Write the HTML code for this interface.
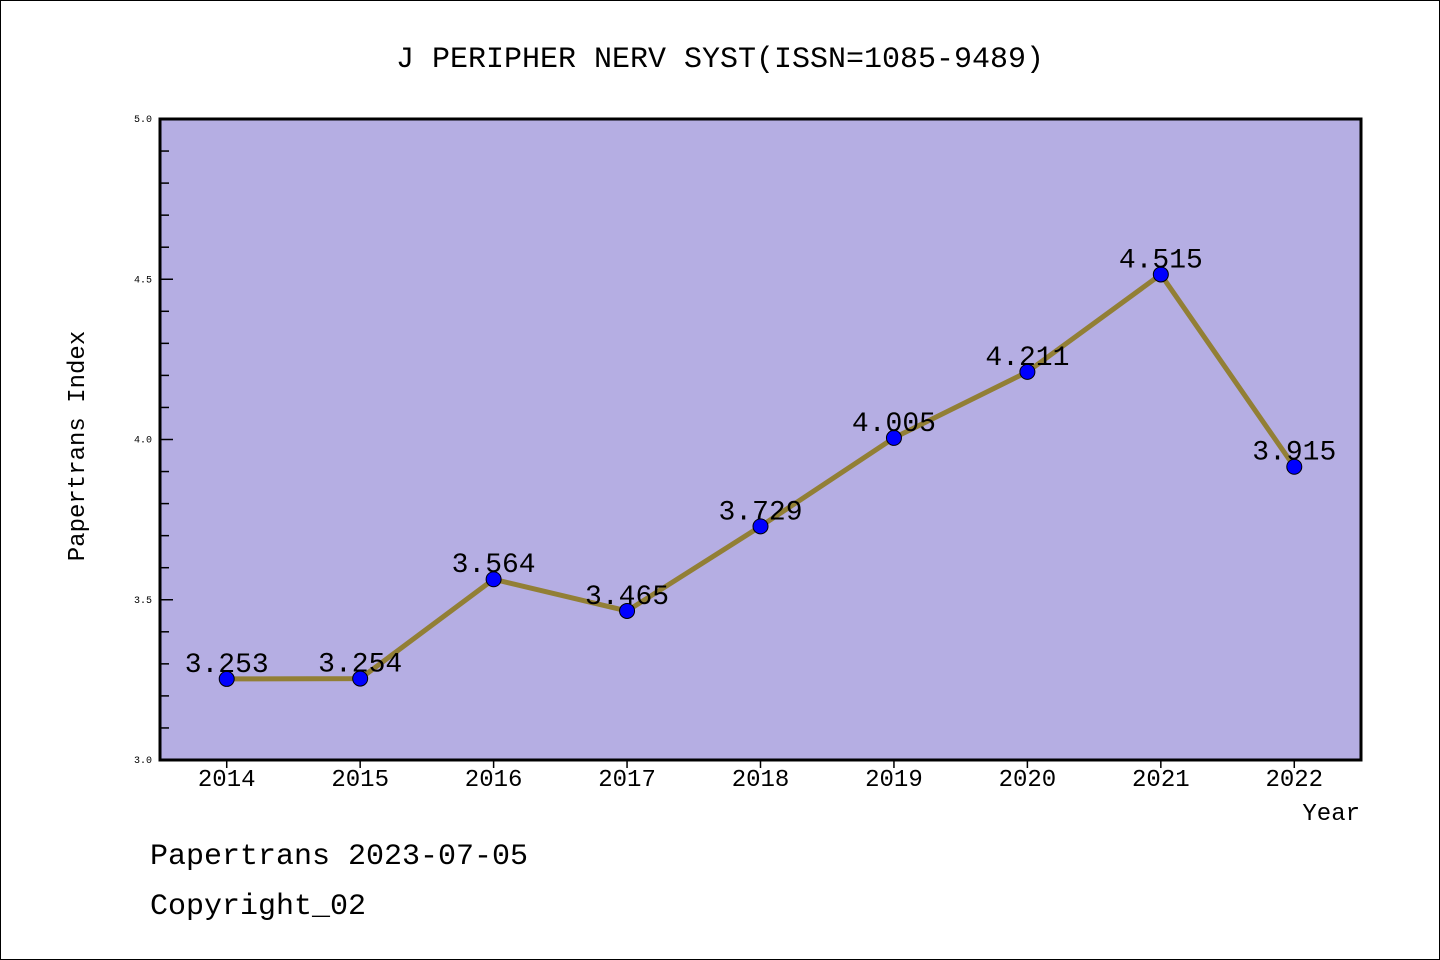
<!DOCTYPE html>
<html><head><meta charset="utf-8"><style>
body{margin:0;background:#fff}
svg{display:block}
text{font-family:"Liberation Mono","DejaVu Sans Mono",monospace}
</style></head><body>
<svg width="1440" height="960">
<rect x="0.5" y="0.5" width="1439" height="959" fill="#fff" stroke="#000"/>
<text x="720" y="67" text-anchor="middle" font-size="30">J PERIPHER NERV SYST(ISSN=1085-9489)</text>
<rect x="160" y="119" width="1201" height="641" fill="#b5aee3"/>
<g id="axes"></g>
<g id="series"></g>
<rect x="160" y="119" width="1201" height="641" fill="none" stroke="#000" stroke-width="3"/>
<text transform="translate(84,446) rotate(-90)" text-anchor="middle" font-size="24">Papertrans Index</text>
<text x="1360" y="820" text-anchor="end" font-size="24">Year</text>
<text x="150" y="864" font-size="30">Papertrans 2023-07-05</text>
<text x="150" y="914" font-size="30">Copyright_02</text>
</svg>
<script>
const years=["2014","2015","2016","2017","2018","2019","2020","2021","2022"];
const values=[3.253,3.254,3.564,3.465,3.729,4.005,4.211,4.515,3.915];
const valueLabels=["3.253","3.254","3.564","3.465","3.729","4.005","4.211","4.515","3.915"];
const yTicks=["3.0","3.5","4.0","4.5","5.0"];
const NS="http://www.w3.org/2000/svg";
const L=160,R=1361,T=119,B=760,yMin=3,yMax=5;
const step=(R-L)/years.length;
const xs=i=>L+step*(i+0.5);
const ys=v=>B-(v-yMin)/(yMax-yMin)*(B-T);
function mk(tag,attrs,parent){const e=document.createElementNS(NS,tag);for(const k in attrs)e.setAttribute(k,attrs[k]);parent.appendChild(e);return e;}
const ax=document.getElementById('axes'),se=document.getElementById('series');
for(let k=0;k<=20;k++){const v=yMin+k*0.1;const y=ys(v);const major=k%5===0;
 const t=mk('line',{x1:L,x2:L+(major?13:9),y1:y,y2:y,stroke:'#000','stroke-width':1.5},ax);
 }
yTicks.forEach(s=>{const t=mk('text',{x:L-8,y:ys(parseFloat(s))+3,'text-anchor':'end','font-size':10,'font-family':'Liberation Sans, sans-serif'},ax);t.textContent=s;
 });
years.forEach((yr,i)=>{const x=xs(i);
 const t=mk('line',{x1:x,x2:x,y1:B,y2:B+8,stroke:'#000','stroke-width':1.5},ax);
 
 const l=mk('text',{x:x,y:B+26,'text-anchor':'middle','font-size':24,'font-family':'Liberation Sans, sans-serif'},ax);l.textContent=yr;
 });
const pl=mk('polyline',{points:values.map((v,i)=>xs(i)+','+ys(v)).join(' '),fill:'none',stroke:'#927f35','stroke-width':5},se);

values.forEach((v,i)=>{const c=mk('circle',{cx:xs(i),cy:ys(v),r:7.5,fill:'#0000ff',stroke:'#000','stroke-width':1},se);
 });
values.forEach((v,i)=>{const t=mk('text',{x:xs(i),y:ys(v)-7,'text-anchor':'middle','font-size':28},se);t.textContent=valueLabels[i];
 });
</script>
</body></html>
